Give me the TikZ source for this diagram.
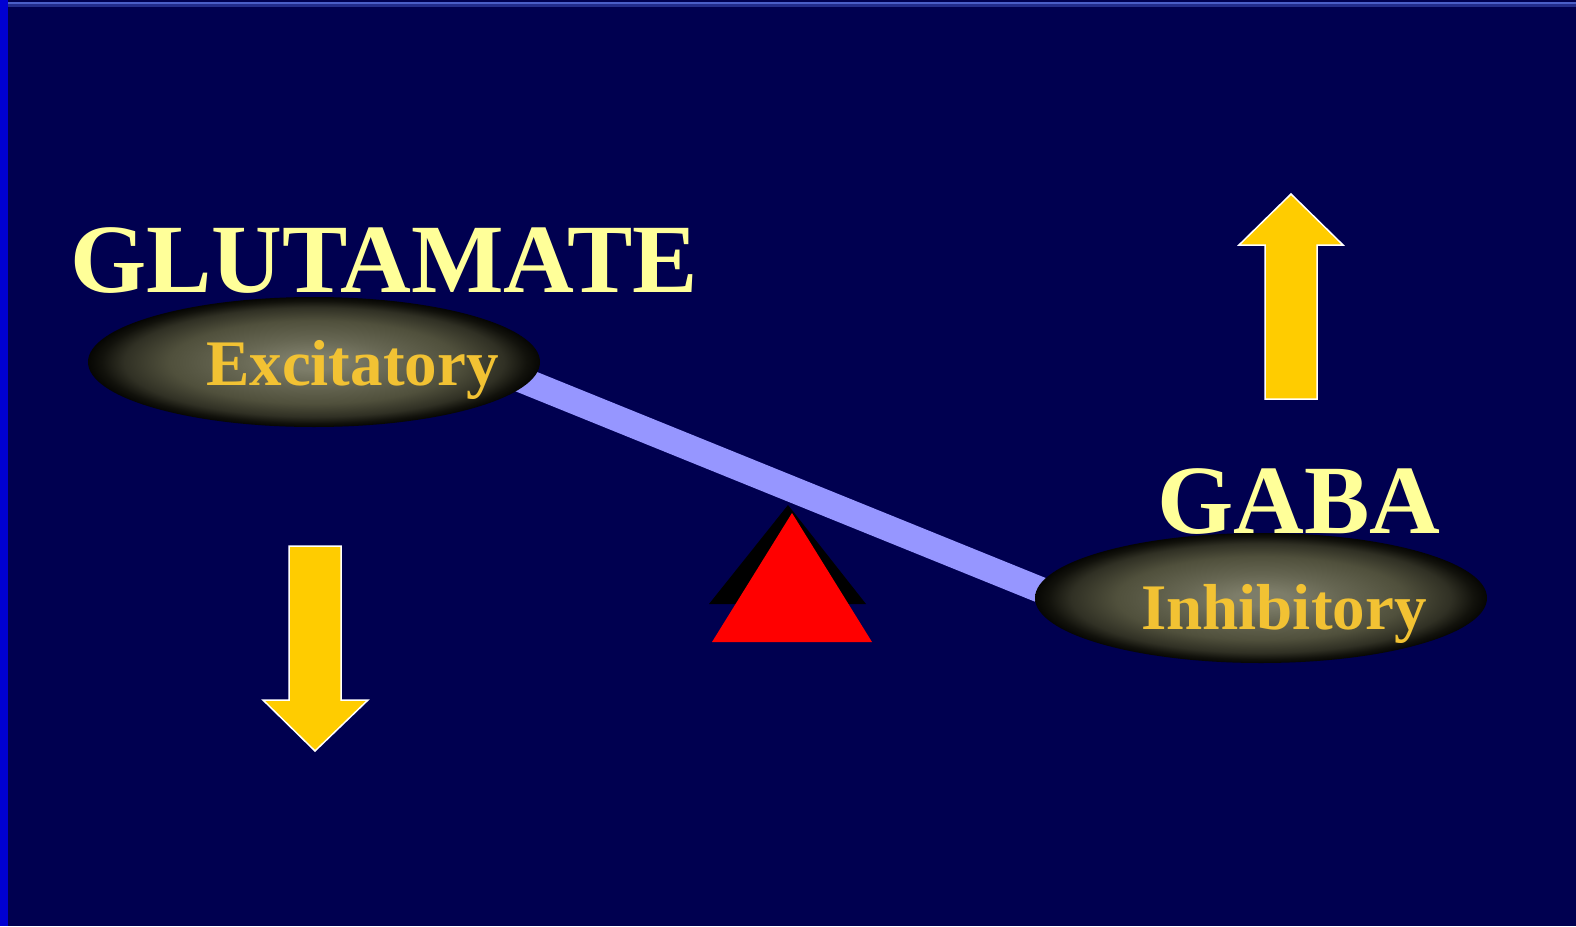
\documentclass[tikz,border=0pt]{standalone}
\usepackage{fontspec}
\setmainfont{Liberation Serif}
\usetikzlibrary{shapes.geometric}
\definecolor{bg}{RGB}{0,0,80}
\definecolor{leftbar}{RGB}{0,0,210}
\definecolor{stripeA}{RGB}{75,95,200}
\definecolor{stripeB}{RGB}{35,45,140}
\definecolor{beamc}{RGB}{150,150,255}
\definecolor{titlec}{RGB}{255,255,153}
\definecolor{labelc}{RGB}{242,194,51}
\definecolor{arrowc}{RGB}{255,204,0}
\definecolor{sh1}{RGB}{125,125,105}
\definecolor{sh2}{RGB}{102,102,82}
\definecolor{sh3}{RGB}{80,80,60}
\definecolor{sh4}{RGB}{48,48,36}
\definecolor{sh5}{RGB}{18,18,12}
\definecolor{sh6}{RGB}{6,6,3}
\pgfdeclareradialshading{ellsh}{\pgfpoint{0bp}{0bp}}{color(0bp)=(sh1); color(3bp)=(sh1); color(9bp)=(sh2); color(16bp)=(sh3); color(21bp)=(sh4); color(23.5bp)=(sh5); color(25bp)=(sh6); color(50bp)=(sh6)}
\tikzset{
  beam/.style={draw=beamc, line width=26pt},
  ell/.style={ellipse, minimum width=452pt, minimum height=130pt, inner sep=0pt, outer sep=0pt, shading=ellsh},
  title/.style={text=titlec, font=\fontsize{98}{98}\selectfont\bfseries, inner sep=0pt, anchor=base west},
  label/.style={text=labelc, font=\fontsize{65}{65}\selectfont\bfseries, inner sep=0pt, anchor=base west},
  bigarrow/.style={fill=arrowc, draw=white, line width=1.5pt, line join=miter},
}
\begin{document}
\begin{tikzpicture}[x=1pt,y=-1pt]
\useasboundingbox (0,0) rectangle (1576,926);
\fill[bg] (0,0) rectangle (1576,926);
\fill[stripeA] (8,1.7) rectangle (1576,4.2);
\fill[stripeB] (8,4.2) rectangle (1576,6.7);
\fill[leftbar] (0,0) rectangle (8,926);
% beam
\coordinate (bL) at (500,371);
\coordinate (bR) at (1100,614);
\draw[beam] (bL) -- (bR);
% ellipses
\node[ell] (exc) at (314,362) {};
\node[ell] (inh) at (1261,598) {};
% texts
\node[title] (glu) at (70,292) {GLUTAMATE};
\node[title] (gaba) at (1157,533) {GABA};
\node[label] (excl) at (206,385) {Excitatory};
\node[label] (inhl) at (1141,629) {Inhibitory};
% fulcrum
\fill[black] (788,505) -- (709,604) -- (866,604) -- cycle;
\fill[red] (792,513) -- (712,642) -- (872,642) -- cycle;
% arrows
\draw[bigarrow] (1291,194) -- (1343,245) -- (1317,245) -- (1317,399) -- (1265,399) -- (1265,245) -- (1239,245) -- cycle;
\draw[bigarrow] (315,751) -- (368,700) -- (341,700) -- (341,546) -- (289,546) -- (289,700) -- (263,700) -- cycle;
\end{tikzpicture}
\end{document}
